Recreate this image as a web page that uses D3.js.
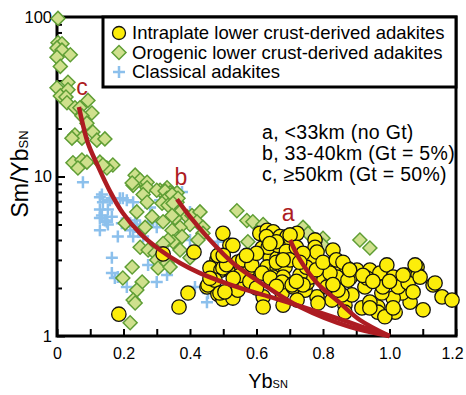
<!DOCTYPE html>
<html>
<head>
<meta charset="utf-8">
<script src="https://cdn.jsdelivr.net/npm/d3@7"></script>
<style>
  body { margin: 0; background: #fff; }
  svg { display: block; font-family: "Liberation Sans", Arial, sans-serif; }
</style>
</head>
<body>
<div id="app"></div>
<script>
// Intraplate lower crust-derived adakites [Yb_SN, Sm/Yb_SN]
const intraplate = [
  [0.186, 1.37], [0.367, 1.52], [0.394, 1.86], [0.319, 3.27], [0.412, 3.36], [0.451, 2.03],
  [0.484, 1.83], [0.499, 4.4], [0.52, 3.7], [0.499, 1.7], [0.529, 1.73], [0.481, 3.0],
  [0.46, 2.67], [0.493, 2.59], [0.52, 2.59], [0.544, 2.91], [0.544, 1.94], [0.484, 3.2],
  [0.499, 2.67], [0.556, 2.67], [0.58, 2.87], [0.595, 2.52], [0.61, 4.4], [0.632, 4.6],
  [0.65, 4.5], [0.641, 4.0], [0.671, 4.2], [0.692, 4.2], [0.707, 4.2], [0.617, 3.56],
  [0.641, 3.46], [0.671, 3.6], [0.701, 3.8], [0.641, 3.08], [0.662, 3.08], [0.686, 3.2],
  [0.71, 3.2], [0.632, 2.71], [0.662, 2.67], [0.686, 2.71], [0.65, 2.34], [0.68, 2.34],
  [0.701, 2.09], [0.571, 2.48], [0.454, 2.09], [0.475, 2.24], [0.49, 1.86], [0.505, 1.89],
  [0.565, 2.15], [0.62, 1.76], [0.677, 1.86], [0.722, 4.4], [0.776, 4.0], [0.776, 3.6],
  [0.83, 3.46], [0.722, 3.1], [0.761, 3.0], [0.812, 2.79], [0.83, 2.87], [0.851, 2.67],
  [0.872, 2.67], [0.902, 2.59], [0.941, 2.59], [0.971, 2.48], [0.992, 2.79], [1.011, 2.34],
  [1.047, 2.41], [1.083, 2.71], [1.086, 2.41], [1.131, 2.09], [1.158, 1.76], [1.188, 1.68],
  [1.101, 1.46], [1.062, 1.63], [1.038, 1.86], [1.011, 1.73], [0.977, 1.86], [0.965, 1.52],
  [0.965, 1.41], [0.917, 1.50], [0.866, 1.56], [0.827, 1.68], [0.782, 1.76], [0.746, 1.94],
  [0.71, 2.03], [0.752, 2.15], [0.791, 2.34], [0.842, 2.34], [0.881, 2.31], [0.926, 2.03],
  [0.887, 1.81], [0.857, 1.81], [0.845, 1.94], [0.932, 2.31], [0.812, 2.03], [0.98, 2.03],
  [0.761, 2.34], [0.731, 2.41], [0.821, 2.48], [0.941, 1.63], [1.017, 1.41], [0.986, 1.32],
  [0.635, 3.6], [0.665, 3.7], [0.782, 3.36], [0.529, 3.7], [0.559, 3.0], [0.586, 2.79],
  [0.617, 2.48], [0.641, 2.31], [0.677, 2.18], [0.707, 2.09], [0.74, 2.09], [0.62, 1.52],
  [0.68, 1.56], [0.722, 1.68], [0.785, 1.61], [0.866, 1.41], [0.941, 1.50], [1.011, 1.50],
  [1.026, 2.03], [1.056, 2.15], [1.071, 1.89], [1.092, 2.34], [1.137, 2.15], [1.041, 2.41],
  [1.077, 2.79], [0.875, 2.24], [0.701, 4.3], [0.63, 4.2], [0.66, 3.9], [0.69, 3.4],
  [0.70, 3.0], [0.66, 2.9], [0.64, 3.8], [0.68, 3.0], [0.60, 3.3], [0.72, 3.6],
  [0.74, 3.3], [0.75, 2.7], [0.73, 2.9], [0.57, 3.2], [0.55, 2.4], [0.58, 2.2],
  [0.60, 2.0], [0.66, 2.05], [0.72, 2.2], [0.78, 2.6], [0.80, 2.9], [0.84, 3.0],
  [0.86, 2.9], [0.88, 2.6], [0.92, 2.4], [0.95, 2.2], [1.0, 2.2], [0.83, 2.1],
  [0.53, 2.3], [0.51, 2.8], [0.50, 3.2], [0.46, 2.3]
];

// Orogenic lower crust-derived adakites
const orogenic = [
  [0.003, 98], [0.003, 69], [0.015, 68], [0.0, 64], [0.015, 62], [0.04, 58], [0.0, 56],
  [0.01, 49], [0.0, 36], [0.033, 39], [0.033, 35], [0.01, 32], [0.027, 31.5], [0.03, 29],
  [0.054, 27], [0.069, 27], [0.093, 30], [0.105, 25], [0.075, 24], [0.09, 21.6],
  [0.054, 18.2], [0.075, 17.4], [0.108, 19], [0.12, 16.9], [0.144, 17.2], [0.045, 17.4],
  [0.048, 12.2], [0.075, 12.7], [0.09, 12.3], [0.129, 12.3], [0.168, 11.8], [0.15, 11.3],
  [0.063, 11.3], [0.138, 11.8], [0.235, 10.2], [0.25, 9.5], [0.271, 9.2], [0.229, 8.8],
  [0.271, 8.5], [0.226, 9.1], [0.31, 8.2], [0.331, 8.5], [0.34, 7.9], [0.259, 7.7],
  [0.271, 6.9], [0.30, 8.2], [0.325, 8.1], [0.331, 7.3], [0.316, 6.8], [0.334, 6.6],
  [0.361, 7.9], [0.361, 6.9], [0.346, 7.7], [0.364, 7.3], [0.349, 6.8], [0.37, 6.0],
  [0.391, 5.6], [0.406, 5.7], [0.43, 6.0], [0.421, 5.2], [0.40, 5.0], [0.37, 4.8],
  [0.439, 4.8], [0.439, 4.4], [0.424, 4.0], [0.376, 4.2], [0.355, 5.5], [0.346, 4.6],
  [0.349, 3.9], [0.37, 3.46], [0.40, 3.1], [0.205, 5.1], [0.24, 6.0], [0.286, 5.6],
  [0.265, 4.8], [0.319, 5.2], [0.346, 5.7], [0.25, 3.6], [0.274, 3.46], [0.295, 3.3],
  [0.334, 4.0], [0.319, 3.8], [0.316, 3.2], [0.30, 3.0], [0.304, 2.67], [0.331, 2.87],
  [0.34, 2.71], [0.226, 2.71], [0.198, 2.31], [0.256, 2.18], [0.24, 1.94], [0.229, 1.68],
  [0.235, 1.61], [0.22, 1.21], [0.541, 6.1], [0.571, 5.3], [0.589, 5.2], [0.574, 3.9],
  [0.62, 5.0], [0.74, 4.8], [0.755, 4.4], [0.80, 4.1], [0.80, 3.7], [0.911, 4.0],
  [0.941, 3.56]
];

// Classical adakites
const classical = [
  [0.078, 9.2], [0.129, 7.4], [0.138, 6.9], [0.159, 7.1], [0.165, 7.3], [0.189, 7.3],
  [0.21, 7.1], [0.229, 6.9], [0.129, 6.2], [0.153, 6.2], [0.165, 5.6], [0.135, 5.7],
  [0.129, 5.5], [0.15, 5.2], [0.129, 4.6], [0.153, 5.0], [0.144, 5.3], [0.183, 4.2],
  [0.195, 5.1], [0.22, 4.6], [0.229, 4.2], [0.25, 4.8], [0.274, 5.0], [0.289, 5.2],
  [0.30, 4.8], [0.259, 4.2], [0.165, 3.1], [0.165, 2.48], [0.174, 2.31], [0.183, 2.34],
  [0.21, 2.03], [0.274, 2.79], [0.30, 2.18], [0.331, 2.41], [0.28, 6.4], [0.31, 7.1],
  [0.198, 7.3], [0.361, 7.9], [0.376, 8.0], [0.40, 6.0], [0.40, 4.0], [0.484, 3.9],
  [0.415, 2.03], [0.454, 1.86], [0.451, 1.63], [0.135, 7.7], [0.24, 5.0], [0.235, 5.3],
  [0.245, 4.5], [0.22, 5.1]
];

// melting curves, all ending at (1.0, 1)
const curveA = [[0.701, 4.0], [0.731, 3.0], [0.782, 2.15], [0.851, 1.61], [0.911, 1.26], [1.0, 1.0]];
const curveB = [[0.361, 7.2], [0.40, 5.6], [0.46, 4.0], [0.529, 2.87], [0.632, 2.03], [0.731, 1.52], [0.881, 1.14], [1.0, 1.0]];
const curveC = [[0.066, 27.3], [0.093, 16.2], [0.12, 12.0], [0.159, 8.1], [0.198, 5.9], [0.25, 4.4],
  [0.31, 3.46], [0.37, 2.87], [0.43, 2.48], [0.55, 2.0], [0.641, 1.76], [0.731, 1.54],
  [0.83, 1.32], [0.911, 1.155], [1.0, 1.0]];
const curveLabels = [['a', 0.695, 5.9], ['b', 0.373, 9.9], ['c', 0.075, 36.4]];

const legendNames = ['Intraplate lower crust-derived adakites', 'Orogenic lower crust-derived adakites', 'Classical adakites'];
const notes = ['a, <33km (no Gt)', 'b, 33-40km (Gt = 5%)', 'c, \u226550km (Gt = 50%)'];

const xMajor = [0, 0.2, 0.4, 0.6, 0.8, 1.0, 1.2];
const xMinor = [0.1, 0.3, 0.5, 0.7, 0.9, 1.1];
const yMajor = [1, 10, 100];
const yMinor = [2, 3, 4, 5, 6, 7, 8, 9, 20, 30, 40, 50, 60, 70, 80, 90];

const width = 466;
const height = 395;
const red = '#ad1c22';

const svg = d3.select('#app').append('svg')
  .attr('width', width)
  .attr('height', height);

const x = d3.scaleLinear().domain([0, 1.2]).range([57, 456]);
const y = d3.scaleLog().domain([1, 100]).range([336, 17]);

// axes, ticks inward
const fmtX = d => d === 0 ? '0' : d3.format('.1f')(d);

svg.append('g')
  .attr('transform', `translate(0,${y(1)})`)
  .call(d3.axisBottom(x).tickValues(xMajor).tickFormat(fmtX).tickSizeInner(-7).tickSizeOuter(0).tickPadding(12))
  .call(g => g.select('.domain').remove())
  .call(g => g.selectAll('text').attr('font-size', 16).attr('fill', '#000').attr('font-family', null))
  // last label sits on the window edge, nudge it in a little
  .call(g => g.selectAll('text').filter(d => d === 1.2).attr('dx', -4));

svg.append('g')
  .attr('transform', `translate(0,${y(1)})`)
  .call(d3.axisBottom(x).tickValues(xMinor).tickFormat('').tickSizeInner(-7).tickSizeOuter(0))
  .call(g => g.select('.domain').remove());

svg.append('g')
  .attr('transform', `translate(${x(0)},0)`)
  .call(d3.axisLeft(y).tickValues(yMajor).tickFormat(d3.format('d')).tickSizeInner(-8).tickSizeOuter(0).tickPadding(5))
  .call(g => g.select('.domain').remove())
  .call(g => g.selectAll('text').attr('font-size', 16.5).attr('fill', '#000').attr('font-family', null));

svg.append('g')
  .attr('transform', `translate(${x(0)},0)`)
  .call(d3.axisLeft(y).tickValues(yMinor).tickFormat('').tickSizeInner(-5).tickSizeOuter(0))
  .call(g => g.select('.domain').remove());

svg.selectAll('.tick line').attr('stroke', '#000').attr('stroke-width', 2);

// frame
svg.append('rect')
  .attr('x', x(0))
  .attr('y', y(100))
  .attr('width', x(1.2) - x(0))
  .attr('height', y(1) - y(100))
  .attr('fill', 'none')
  .attr('stroke', '#000')
  .attr('stroke-width', 3);

// axis titles
const yt = svg.append('text')
  .attr('transform', `translate(28,174) rotate(-90)`)
  .attr('text-anchor', 'middle')
  .attr('font-size', 23);
yt.append('tspan').text('Sm/Yb');
yt.append('tspan').attr('font-size', 13).text('SN');

const xt = svg.append('text')
  .attr('x', 268)
  .attr('y', 388)
  .attr('text-anchor', 'middle')
  .attr('font-size', 20);
xt.append('tspan').text('Yb');
xt.append('tspan').attr('font-size', 11).text('SN');

// symbols
const crossPath = 'M-6,0H6M0,-6V6';
const diamondPath = d3.symbol().type(d3.symbolSquare).size(98)();

svg.append('g').selectAll('path')
  .data(classical)
  .join('path')
  .attr('d', crossPath)
  .attr('transform', d => `translate(${x(d[0])},${y(d[1])})`)
  .attr('stroke', '#8cc0ec')
  .attr('stroke-width', 2.5)
  .attr('fill', 'none');

svg.append('g').selectAll('path')
  .data(orogenic)
  .join('path')
  .attr('d', diamondPath)
  .attr('transform', d => `translate(${x(d[0])},${y(d[1])}) rotate(45)`)
  .attr('fill', '#cfe08d')
  .attr('stroke', '#5f9e35')
  .attr('stroke-width', 1.5);

svg.append('g').selectAll('circle')
  .data(intraplate)
  .join('circle')
  .attr('cx', d => x(d[0]))
  .attr('cy', d => y(d[1]))
  .attr('r', 7.2)
  .attr('fill', '#fced0a')
  .attr('stroke', '#111')
  .attr('stroke-width', 1.3);

// curves
const line = d3.line()
  .x(d => x(d[0]))
  .y(d => y(d[1]))
  .curve(d3.curveCatmullRom);

svg.append('g').selectAll('path')
  .data([curveA, curveB, curveC])
  .join('path')
  .attr('d', line)
  .attr('fill', 'none')
  .attr('stroke', red)
  .attr('stroke-width', 4.5)
  .attr('stroke-linecap', 'butt');

svg.append('g').selectAll('text')
  .data(curveLabels)
  .join('text')
  .attr('x', d => x(d[1]))
  .attr('y', d => y(d[2]))
  .attr('dy', '0.35em')
  .attr('text-anchor', 'middle')
  .attr('font-size', 23)
  .attr('fill', red)
  .text(d => d[0]);

// legend
const legend = svg.append('g');
legend.append('rect')
  .attr('x', 103)
  .attr('y', y(100))
  .attr('width', x(1.2) - 103)
  .attr('height', 70)
  .attr('fill', '#fff')
  .attr('stroke', '#000')
  .attr('stroke-width', 3);

const rows = legend.selectAll('g.row')
  .data(legendNames)
  .join('g')
  .attr('class', 'row')
  .attr('transform', (d, i) => `translate(119,${33 + i * 19.5})`);

rows.filter((d, i) => i === 0).append('circle')
  .attr('r', 6.5).attr('fill', '#fced0a').attr('stroke', '#111').attr('stroke-width', 1.3);
rows.filter((d, i) => i === 1).append('path')
  .attr('d', diamondPath).attr('transform', 'rotate(45)')
  .attr('fill', '#cfe08d').attr('stroke', '#5f9e35').attr('stroke-width', 1.5);
rows.filter((d, i) => i === 2).append('path')
  .attr('d', crossPath).attr('stroke', '#8cc0ec').attr('stroke-width', 2.5);

rows.append('text')
  .attr('x', 13)
  .attr('dy', '0.35em')
  .attr('font-size', 18.5)
  .text(d => d);

// depth notes
svg.append('g').selectAll('text')
  .data(notes)
  .join('text')
  .attr('x', 262)
  .attr('y', (d, i) => 139 + i * 21)
  .attr('font-size', 19.5)
  .attr('letter-spacing', 0.3)
  .text(d => d);
</script>
</body>
</html>
